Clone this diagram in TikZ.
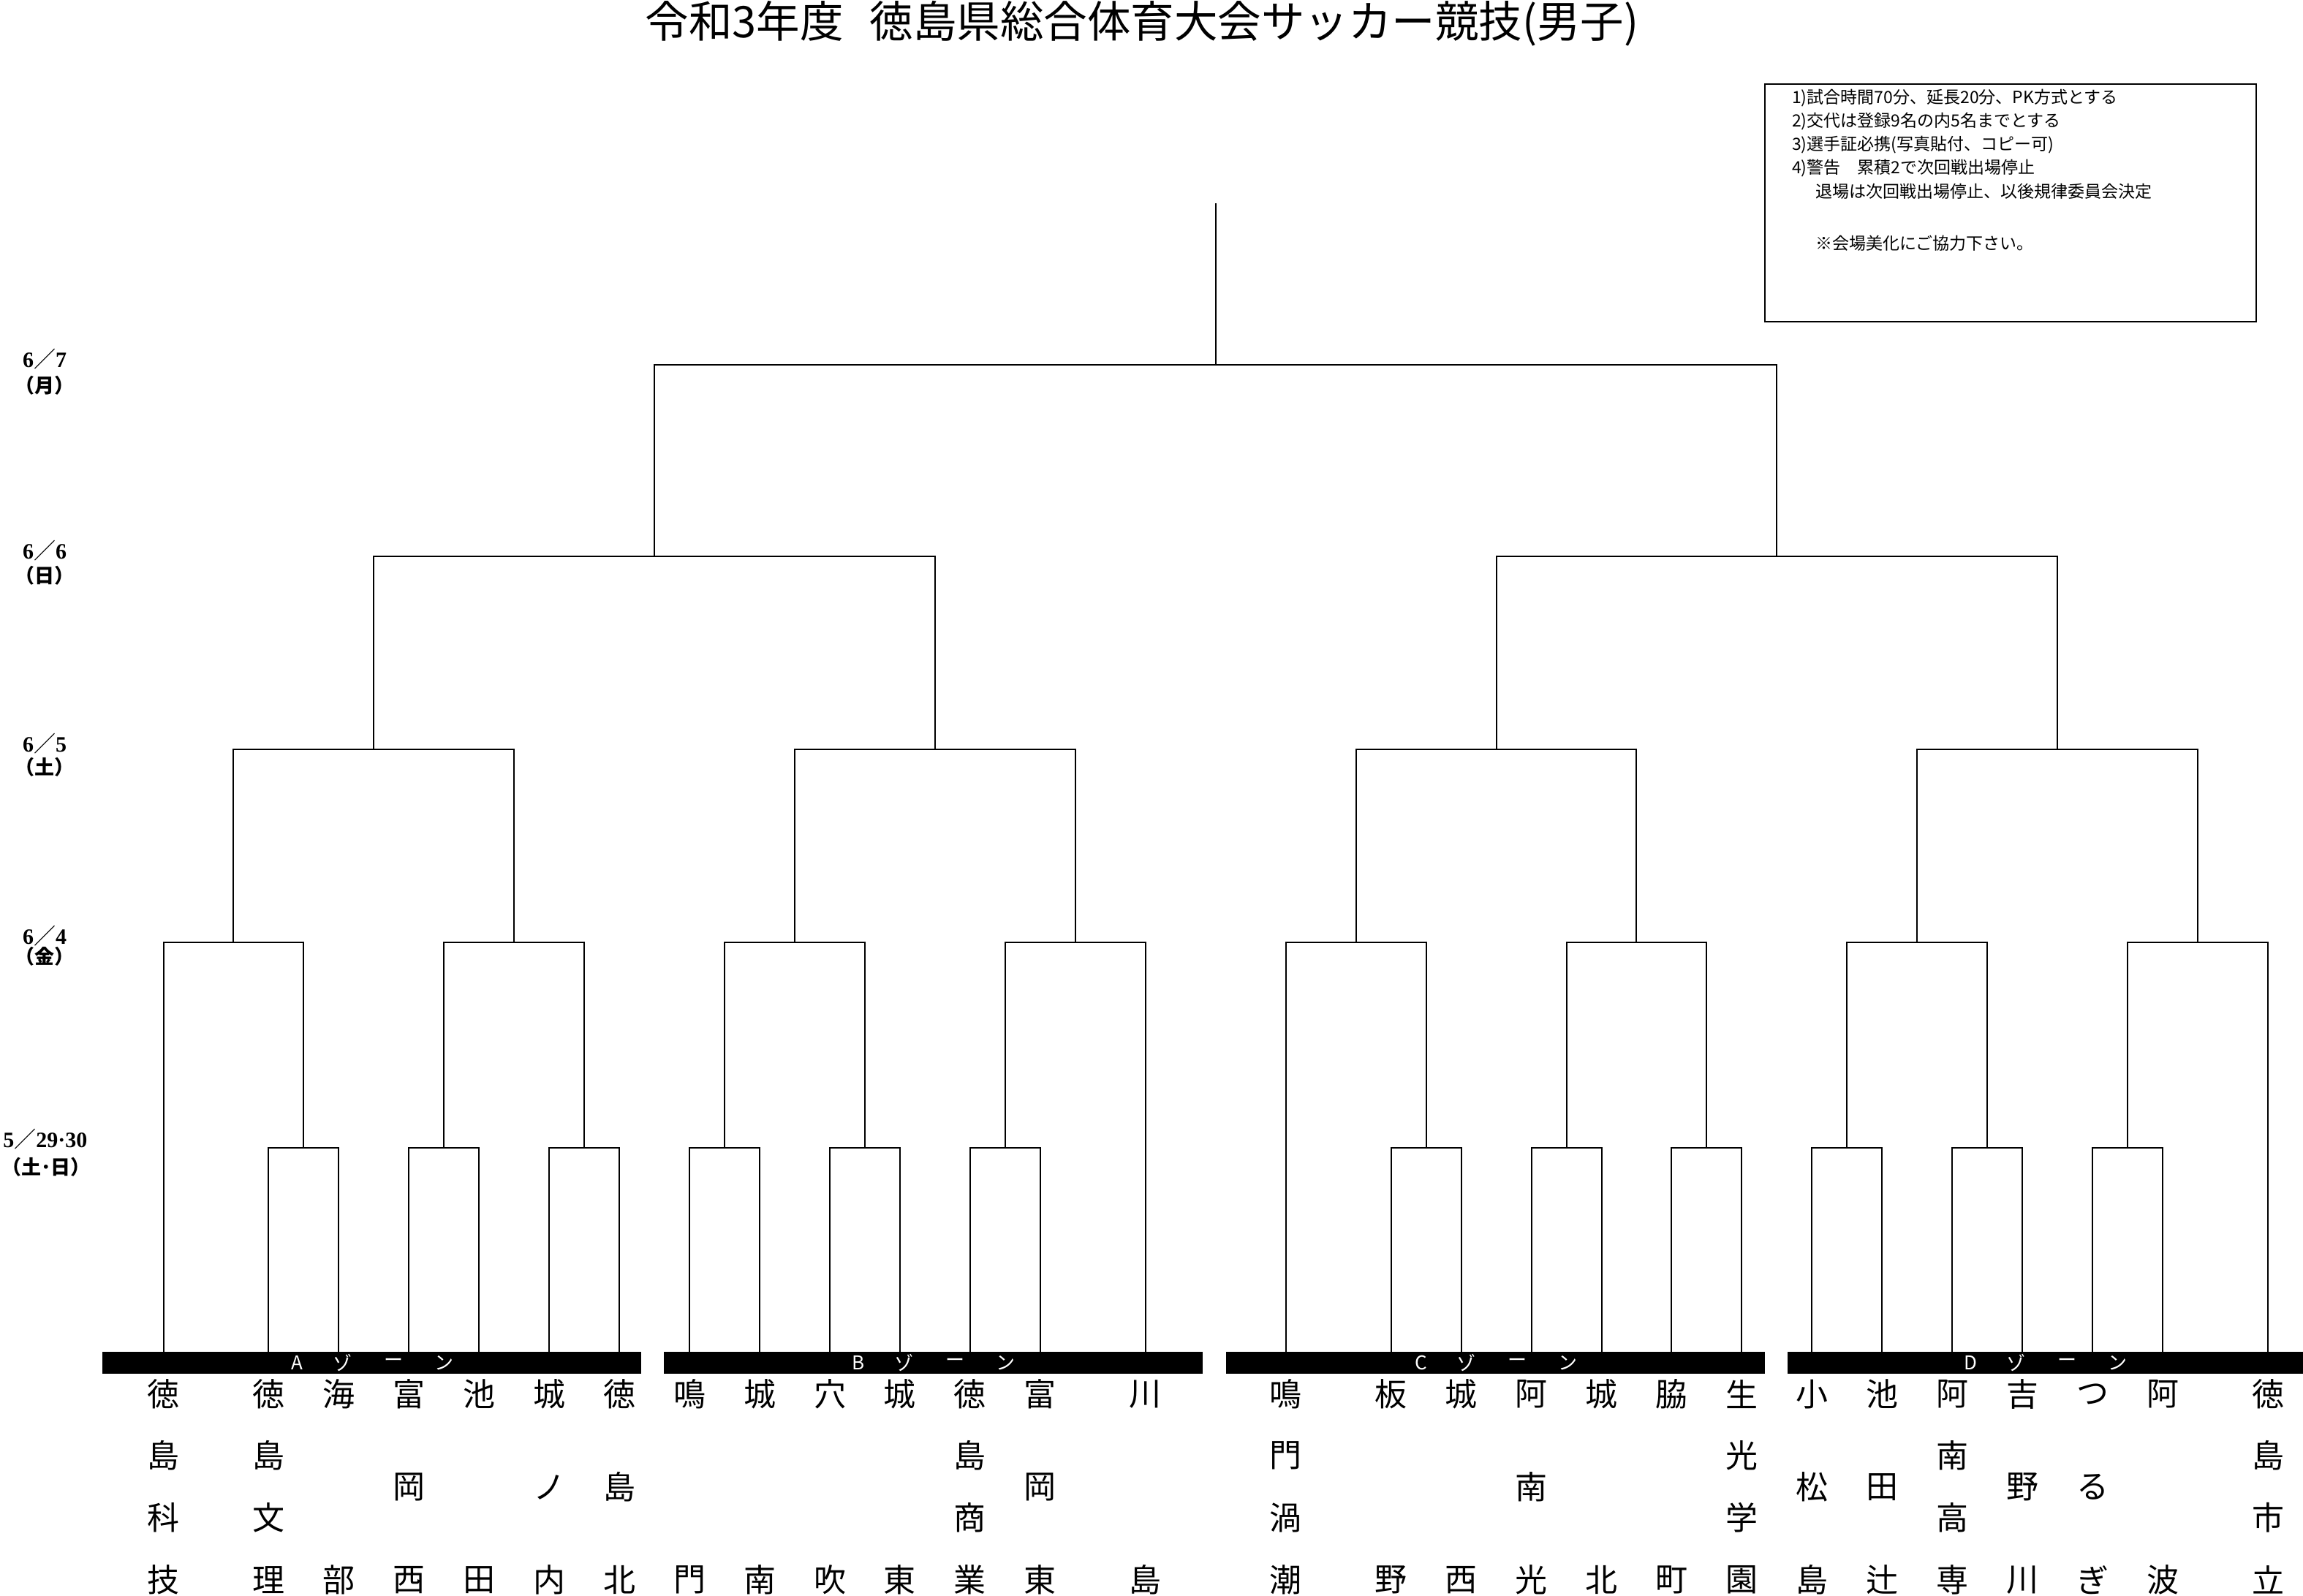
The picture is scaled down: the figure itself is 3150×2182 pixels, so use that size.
\documentclass[tikz,border=0pt]{standalone}
\usepackage{fontspec}
\setmainfont{Liberation Serif}
\newfontfamily\jp{Noto Sans CJK JP}
\newcommand\dsl{{\jp\mdseries ／}}
\newcommand\tmfour[6]{%
  \node[team] (#1-1) at (#2,1907) {#3};
  \node[team] (#1-2) at (#2,1991) {#4};
  \node[team] (#1-3) at (#2,2076) {#5};
  \node[team] (#1-4) at (#2,2161) {#6};}
\newcommand\tmthree[5]{%
  \node[team] (#1-1) at (#2,1907) {#3};
  \node[team] (#1-2) at (#2,2034) {#4};
  \node[team] (#1-3) at (#2,2161) {#5};}
\newcommand\tmtwo[4]{%
  \node[team] (#1-1) at (#2,1907) {#3};
  \node[team] (#1-2) at (#2,2161) {#4};}
\tikzset{
  br/.style={line width=2pt, black},
  team/.style={font=\jp\fontsize{44pt}{44pt}\selectfont, inner sep=0pt, anchor=center},
  zonebar/.style={fill=black, draw=none, inner sep=0pt, outer sep=0pt, minimum height=30pt},
  zonetxt/.style={font=\jp\fontsize{26pt}{26pt}\selectfont, text=white, inner sep=0pt},
  datetxt/.style={font=\fontsize{30pt}{30pt}\selectfont\bfseries, inner sep=0pt},
  daytxt/.style={font=\jp\bfseries\fontsize{27pt}{27pt}\selectfont, inner sep=0pt},
  notetxt/.style={font=\jp\fontsize{23pt}{23pt}\selectfont, anchor=west, inner sep=0pt},
  titletxt/.style={font=\jp\fontsize{59.5pt}{59.5pt}\selectfont, inner sep=0pt},
  notebox/.style={draw, line width=2pt, inner sep=0pt, minimum width=672pt, minimum height=325pt}
}
\begin{document}
\begin{tikzpicture}[x=1pt,y=-1pt]
\useasboundingbox (0,0) rectangle (3150,2182);
\fill[white] (0,0) rectangle (3150,2182);

% title
\node[titletxt] (title) at (1562,32) {令和3年度\hspace{36pt}徳島県総合体育大会サッカー競技(男子)};

% notes
\node[notebox] (notebox) at (2750,277.5) {};
\node[notetxt] (n1) at (2451,134) {1)試合時間70分、延長20分、PK方式とする};
\node[notetxt] (n2) at (2451,166) {2)交代は登録9名の内5名までとする};
\node[notetxt] (n3) at (2451,198) {3)選手証必携(写真貼付、コピー可)};
\node[notetxt] (n4) at (2451,230) {4)警告　累積2で次回戦出場停止};
\node[notetxt] (n5) at (2483,262) {退場は次回戦出場停止、以後規律委員会決定};
\node[notetxt] (n6) at (2483,333) {※会場美化にご協力下さい。};

% dates
\node[datetxt] (d1) at (61,491) {6\dsl 7};
\node[daytxt]  (w1) at (61,527) {（月）};
\node[datetxt] (d2) at (61,753) {6\dsl 6};
\node[daytxt]  (w2) at (61,787) {（日）};
\node[datetxt] (d3) at (61,1017) {6\dsl 5};
\node[daytxt]  (w3) at (61,1049) {（土）};
\node[datetxt] (d4) at (61,1280) {6\dsl 4};
\node[daytxt]  (w4) at (61,1308) {（金）};
\node[datetxt] (d5) at (62,1558) {5\dsl 29·30};
\node[daytxt]  (w5) at (63,1596) {（土･日）};

\begin{scope}[x=95.95pt, xshift=223.5pt]
  % leaves
  \foreach \i/\k in {1/0,2/1.5,3/2.5,4/3.5,5/4.5,6/5.5,7/6.5,
                     8/7.5,9/8.5,10/9.5,11/10.5,12/11.5,13/12.5,14/14,
                     15/16,16/17.5,17/18.5,18/19.5,19/20.5,20/21.5,21/22.5,
                     22/23.5,23/24.5,24/25.5,25/26.5,26/27.5,27/28.5,28/30}
    \coordinate (L\i) at (\k,1849);
  % round 1 (5/29-30)
  \foreach \k in {2,4,6,8,10,12,18,20,22,24,26,28}
    \coordinate (m1-\k) at (\k,1570);
  % round 2 (6/4)
  \foreach \k in {1,5,9,13,17,21,25,29}
    \coordinate (m2-\k) at (\k,1289);
  % round 3 (6/5)
  \foreach \k in {3,11,19,27}
    \coordinate (m3-\k) at (\k,1025);
  % round 4 (6/6)
  \foreach \k in {7,23}
    \coordinate (m4-\k) at (\k,761);
  % final (6/7)
  \coordinate (m5-15) at (15,499);
  \coordinate (top) at (15,277.7);

  % team names
  \tmfour{t1}{0}{徳}{島}{科}{技}
  \tmfour{t2}{1.5}{徳}{島}{文}{理}
  \tmtwo{t3}{2.5}{海}{部}
  \tmthree{t4}{3.5}{富}{岡}{西}
  \tmtwo{t5}{4.5}{池}{田}
  \tmthree{t6}{5.5}{城}{ノ}{内}
  \tmthree{t7}{6.5}{徳}{島}{北}
  \tmtwo{t8}{7.5}{鳴}{門}
  \tmtwo{t9}{8.5}{城}{南}
  \tmtwo{t10}{9.5}{穴}{吹}
  \tmtwo{t11}{10.5}{城}{東}
  \tmfour{t12}{11.5}{徳}{島}{商}{業}
  \tmthree{t13}{12.5}{富}{岡}{東}
  \tmtwo{t14}{14}{川}{島}
  \tmfour{t15}{16}{鳴}{門}{渦}{潮}
  \tmtwo{t16}{17.5}{板}{野}
  \tmtwo{t17}{18.5}{城}{西}
  \tmthree{t18}{19.5}{阿}{南}{光}
  \tmtwo{t19}{20.5}{城}{北}
  \tmtwo{t20}{21.5}{脇}{町}
  \tmfour{t21}{22.5}{生}{光}{学}{園}
  \tmthree{t22}{23.5}{小}{松}{島}
  \tmthree{t23}{24.5}{池}{田}{辻}
  \tmfour{t24}{25.5}{阿}{南}{高}{専}
  \tmthree{t25}{26.5}{吉}{野}{川}
  \tmthree{t26}{27.5}{つ}{る}{ぎ}
  \tmtwo{t27}{28.5}{阿}{波}
  \tmfour{t28}{30}{徳}{島}{市}{立}
\end{scope}

% round 1
\draw[br] (L2) |- (m1-2) -| (L3);
\draw[br] (L4) |- (m1-4) -| (L5);
\draw[br] (L6) |- (m1-6) -| (L7);
\draw[br] (L8) |- (m1-8) -| (L9);
\draw[br] (L10) |- (m1-10) -| (L11);
\draw[br] (L12) |- (m1-12) -| (L13);
\draw[br] (L16) |- (m1-18) -| (L17);
\draw[br] (L18) |- (m1-20) -| (L19);
\draw[br] (L20) |- (m1-22) -| (L21);
\draw[br] (L22) |- (m1-24) -| (L23);
\draw[br] (L24) |- (m1-26) -| (L25);
\draw[br] (L26) |- (m1-28) -| (L27);
% round 2
\draw[br] (L1) |- (m2-1) -| (m1-2);
\draw[br] (m1-4) |- (m2-5) -| (m1-6);
\draw[br] (m1-8) |- (m2-9) -| (m1-10);
\draw[br] (m1-12) |- (m2-13) -| (L14);
\draw[br] (L15) |- (m2-17) -| (m1-18);
\draw[br] (m1-20) |- (m2-21) -| (m1-22);
\draw[br] (m1-24) |- (m2-25) -| (m1-26);
\draw[br] (m1-28) |- (m2-29) -| (L28);
% round 3
\draw[br] (m2-1) |- (m3-3) -| (m2-5);
\draw[br] (m2-9) |- (m3-11) -| (m2-13);
\draw[br] (m2-17) |- (m3-19) -| (m2-21);
\draw[br] (m2-25) |- (m3-27) -| (m2-29);
% round 4
\draw[br] (m3-3) |- (m4-7) -| (m3-11);
\draw[br] (m3-19) |- (m4-23) -| (m3-27);
% final
\draw[br] (m4-7) |- (m5-15) -| (m4-23);
\draw[br] (m5-15) -- (top);

% zone bars
\node[zonebar, minimum width=737pt, anchor=west] (zA) at (140,1864) {};
\node[zonebar, minimum width=737pt, anchor=west] (zB) at (908,1864) {};
\node[zonebar, minimum width=737pt, anchor=west] (zC) at (1677,1864) {};
\node[zonebar, minimum width=710pt, anchor=west] (zD) at (2445,1864) {};
\coordinate (cA) at (508.5,1864);
\coordinate (cB) at (1276.5,1864);
\coordinate (cC) at (2045.5,1864);
\coordinate (cD) at (2797.5,1864);
\foreach \z in {A,B,C,D} {
  \node[zonetxt] (z\z1) at ([xshift=-102pt]c\z) {\z};
  \node[zonetxt] (z\z2) at ([xshift=-40pt]c\z) {ゾ};
  \node[zonetxt] (z\z3) at ([xshift=30pt]c\z) {ー};
  \node[zonetxt] (z\z4) at ([xshift=99pt]c\z) {ン};
}
\end{tikzpicture}
\end{document}
